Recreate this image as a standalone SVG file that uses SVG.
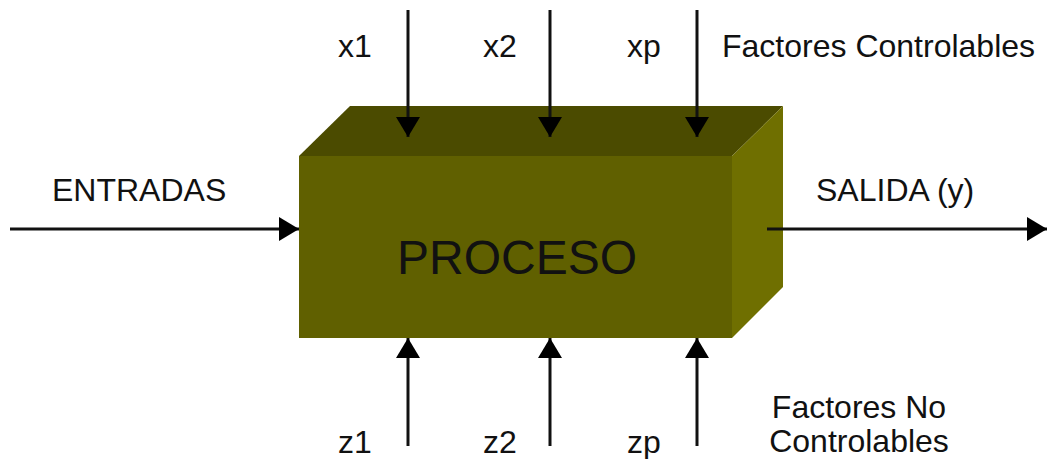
<svg xmlns="http://www.w3.org/2000/svg" width="1047" height="459" viewBox="0 0 1047 459">
  <style>
    .lbl { font-family: "Liberation Sans", Arial, sans-serif; font-size: 32px; fill: #111; }
    .big { font-family: "Liberation Sans", Arial, sans-serif; font-size: 48px; fill: #111; }
    .wire { stroke: #111; stroke-width: 3; fill: none; }
  </style>
  <defs>
    <marker id="head" viewBox="0 0 20 24" refX="20" refY="12" markerWidth="20" markerHeight="24" markerUnits="userSpaceOnUse" orient="auto">
      <path d="M0,0 L20,12 L0,24 Z" fill="#000"/>
    </marker>
  </defs>

  <rect width="1047" height="459" fill="#fff"/>

  <!-- process block drawn as a box in perspective -->
  <g id="proceso">
    <polygon points="299,156 350,106 783,106 732,156" fill="#4b4b00"/>
    <polygon points="732,156 783,106 783,287 732,338" fill="#6f6f00"/>
    <rect x="299" y="156" width="433" height="182" fill="#606000"/>
    <text class="big" x="517" y="274" text-anchor="middle">PROCESO</text>
  </g>

  <g id="entradas">
    <text class="lbl" x="52" y="201">ENTRADAS</text>
  </g>
  <g id="salida">
    <text class="lbl" x="816" y="201">SALIDA (y)</text>
  </g>
  <g id="controlables">
    <text class="lbl" x="338" y="57">x1</text>
    <text class="lbl" x="483" y="57">x2</text>
    <text class="lbl" x="627" y="57">xp</text>
    <text class="lbl" x="722" y="57">Factores Controlables</text>
  </g>
  <g id="no-controlables">
    <text class="lbl" x="338" y="453">z1</text>
    <text class="lbl" x="483" y="453">z2</text>
    <text class="lbl" x="627" y="453">zp</text>
    <text class="lbl" x="859" y="418" text-anchor="middle">Factores No</text>
    <text class="lbl" x="859" y="452" text-anchor="middle">Controlables</text>
  </g>

  <g id="connectors">
    <line class="wire" x1="10" y1="229" x2="299" y2="229" marker-end="url(#head)"/>
    <line class="wire" x1="767" y1="229" x2="1047" y2="229" marker-end="url(#head)"/>
    <line class="wire" x1="408" y1="10" x2="408" y2="137" marker-end="url(#head)"/>
    <line class="wire" x1="550" y1="10" x2="550" y2="137" marker-end="url(#head)"/>
    <line class="wire" x1="697" y1="10" x2="697" y2="137" marker-end="url(#head)"/>
    <line class="wire" x1="408" y1="446" x2="408" y2="338" marker-end="url(#head)"/>
    <line class="wire" x1="550" y1="446" x2="550" y2="338" marker-end="url(#head)"/>
    <line class="wire" x1="697" y1="446" x2="697" y2="338" marker-end="url(#head)"/>
  </g>
</svg>
